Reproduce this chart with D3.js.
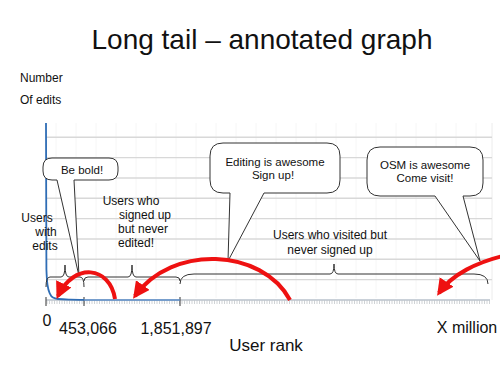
<!DOCTYPE html>
<html><head><meta charset="utf-8">
<script src="https://cdn.jsdelivr.net/npm/d3@7"></script>
<style>body{margin:0;background:#fff}svg{display:block}text{font-family:"Liberation Sans",Arial,sans-serif;fill:#111}</style>
</head><body><svg id="c" width="500" height="375"></svg>
<script>
// ---- data ----
const segmentBounds = [0, 453066, 1851897, 6000000];          // user-rank boundaries
const tickLabels = ["0", "453,066", "1,851,897", "X million"];
const editRanks  = [0, 5000, 18000, 48000, 83000, 143000, 290000, 453066];
const editValues = [8.7, 1.5, 0.74, 0.3, 0.12, 0.05, 0.02, 0.01];
const neverEditedRanks  = [453066, 1851897];
const neverEditedValues = [0, 0];
const gridValues = [1, 2, 3, 4, 5, 6, 7, 8];
const segmentLabels = [
  ["Users", "with", "edits"],
  ["Users who", "signed up", "but never", "edited!"],
  ["Users who visited but", "never signed up"]
];
const bubbleTexts = [["Be bold!"], ["Editing is awesome", "Sign up!"], ["OSM is awesome", "Come visit!"]];

// ---- layout ----
const svg = d3.select("#c");
const x = d3.scaleLinear().domain(segmentBounds).range([46, 84, 180, 490]);
const y = d3.scaleLinear().domain([0, 8.7]).range([300, 123]);

svg.append("text").attr("x", 262).attr("y", 49).attr("text-anchor", "middle")
  .style("font-size", "28px").text("Long tail \u2013 annotated graph");
svg.append("text").attr("x", 20).attr("y", 82).style("font-size", "12px").text("Number");
svg.append("text").attr("x", 20).attr("y", 104).style("font-size", "12px").text("Of edits");

// faint vertical grid
const g = svg.append("g");
d3.range(56, 492, 20).forEach(v => g.append("line").attr("x1", v).attr("x2", v).attr("y1", 123).attr("y2", 298)
  .attr("stroke", "#f6f6f6").attr("stroke-width", 1));
g.append("line").attr("x1", 492).attr("x2", 492).attr("y1", 123).attr("y2", 300).attr("stroke", "#ececec");
// horizontal grid
g.selectAll(".h").data(gridValues).join("line")
  .attr("x1", 46).attr("x2", 492).attr("y1", d => y(d)).attr("y2", d => y(d))
  .attr("stroke", "#d8d8d8").attr("stroke-width", 1.4);

// bottom axis with minor ticks
const ax = svg.append("g");
ax.append("line").attr("x1", 46).attr("x2", 490).attr("y1", 300).attr("y2", 300).attr("stroke", "#b8c2cc").attr("stroke-width", 1.5);
d3.range(47, 490, 2.5).forEach(v => ax.append("line").attr("x1", v).attr("x2", v).attr("y1", 300).attr("y2", 304)
  .attr("stroke", "#c4c8cc").attr("stroke-width", 0.8));
segmentBounds.slice(0, 3).forEach(r => ax.append("line").attr("x1", x(r)).attr("x2", x(r)).attr("y1", 297).attr("y2", 306)
  .attr("stroke", "#555").attr("stroke-width", 1.2));

// data lines
const line = d3.line().x(d => x(d[0])).y(d => y(d[1])).curve(d3.curveMonotoneX);
svg.append("path").datum(neverEditedRanks.map((r, i) => [r, neverEditedValues[i]]))
  .attr("d", line).attr("fill", "none").attr("stroke", "#5b8cc8").attr("stroke-width", 1.5);
svg.append("path").datum(editRanks.map((r, i) => [r, editValues[i]]))
  .attr("d", line).attr("fill", "none").attr("stroke", "#2f6db5").attr("stroke-width", 1.8);

// tick labels
const tlx = [x(0) + 1, x(453066) + 4, x(1851897) - 4, 467];
const tly = [326, 334, 334, 333];
tickLabels.forEach((t, i) => svg.append("text").attr("x", tlx[i]).attr("y", tly[i]).attr("text-anchor", "middle")
  .style("font-size", "16px").text(t));
svg.append("text").attr("x", 266).attr("y", 351).attr("text-anchor", "middle").style("font-size", "17px").text("User rank");

// braces
function brace(x1, x2, yl, tip, endY, q) {
  const m = (x1 + x2) / 2;
  return `M${x1},${endY} Q${x1},${yl} ${x1 + q},${yl} L${m - 4},${yl} Q${m},${yl} ${m},${tip} Q${m},${yl} ${m + 4},${yl} L${x2 - q},${yl} Q${x2},${yl} ${x2},${endY}`;
}
const bd = [
  brace(x(0), x(453066), 277, 265, 287, 4),
  brace(x(453066), x(1851897), 277, 265, 281, 4),
  brace(x(1851897), x(6000000) - 2, 274, 264, 284, 14)
];
bd.forEach(d => svg.append("path").attr("d", d).attr("fill", "none").attr("stroke", "#333").attr("stroke-width", 1));

// segment labels
const slPos = [[[37, 222], [46, 236], [45, 250]], [[131, 205], [145, 219], [143, 233], [136, 247]], [[330, 239], [330, 254]]];
segmentLabels.forEach((lines, i) => lines.forEach((t, j) =>
  svg.append("text").attr("x", slPos[i][j][0]).attr("y", slPos[i][j][1]).attr("text-anchor", "middle")
    .style("font-size", "12px").text(t)));

// speech bubbles
function bubble(x0, y0, x1, y1, r, p1, p2, tx, ty) {
  return `M${x0 + r},${y0} L${x1 - r},${y0} Q${x1},${y0} ${x1},${y0 + r} L${x1},${y1 - r} Q${x1},${y1} ${x1 - r},${y1}` +
    ` L${p2},${y1} L${tx},${ty} L${p1},${y1} L${x0 + r},${y1} Q${x0},${y1} ${x0},${y1 - r} L${x0},${y0 + r} Q${x0},${y0} ${x0 + r},${y0} Z`;
}
const bubbles = [
  {b: [43, 158, 118, 180, 9], p: [57, 74], t: [79, 276], lines: [[82, 174]]},
  {b: [210, 143, 340, 193, 13], p: [230, 264], t: [228, 261], lines: [[275, 166], [273, 179]]},
  {b: [367, 147, 483, 196, 13], p: [435, 463], t: [480, 261], lines: [[425, 169], [425, 182]]}
];
bubbles.forEach((B, i) => {
  svg.append("path").attr("d", bubble(B.b[0], B.b[1], B.b[2], B.b[3], B.b[4], B.p[0], B.p[1], B.t[0], B.t[1]))
    .attr("fill", "#fff").attr("stroke", "#333").attr("stroke-width", 1).attr("stroke-linejoin", "round");
  bubbleTexts[i].forEach((t, j) => svg.append("text").attr("x", B.lines[j][0]).attr("y", B.lines[j][1])
    .attr("text-anchor", "middle").style("font-size", "11.5px").text(t));
});

// red arrows
svg.append("defs").append("marker").attr("id", "ah").attr("viewBox", "0 0 10 10").attr("refX", 8).attr("refY", 5)
  .attr("markerWidth", 4.2).attr("markerHeight", 4.2).attr("orient", "auto")
  .append("path").attr("d", "M0,0 L10,5 L0,10 Z").attr("fill", "#ee1111");
const arrows = [
  "M115,299 C110,266 74,262 58,296",
  "M290,300 C262,248 172,244 135,296",
  "M503,256 C478,262 452,274 439,293"
];
arrows.forEach(d => svg.append("path").attr("d", d).attr("fill", "none").attr("stroke", "#ee1111")
  .attr("stroke-width", 4).attr("marker-end", "url(#ah)"));
</script></body></html>
